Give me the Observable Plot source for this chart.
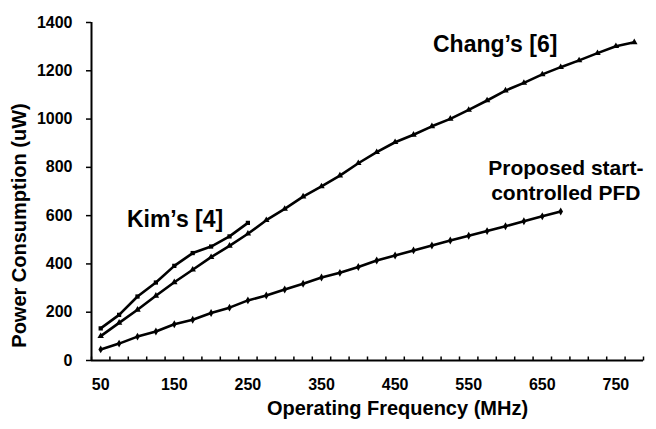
<!DOCTYPE html>
<html><head><meta charset="utf-8">
<script src="https://cdn.jsdelivr.net/npm/d3@7"></script>
<script src="https://cdn.jsdelivr.net/npm/@observablehq/plot@0.6"></script>
<style>
body{margin:0;background:#fff}
#chart{width:656px;height:429px}
</style>
</head><body><div id="chart"></div>
<script>
// ---- data ----
const freqs = [50,75,100,125,150,175,200,225,250,275,300,325,350,375,400,425,450,475,500,525,550,575,600,625,650,675,700,725,750,775];
const kim = [133,189,265,323,392,445,472,514,570];
const chang = [101,156,210,268,324,376,428,475,525,581,628,679,721,766,817,863,904,935,970,1001,1038,1077,1118,1150,1185,1215,1243,1273,1302,1318];
const proposed = [46,70,99,120,150,169,197,219,249,269,294,318,344,363,387,414,435,456,476,497,517,536,556,577,597,617];
const xTickLabels = [50,150,250,350,450,550,650,750];
const yTicks = [0,200,400,600,800,1000,1200,1400];
const xTitle = "Operating Frequency (MHz)";
const yTitle = "Power Consumption (uW)";
const bigLabels = [
  {text:"Kim\u2019s [4]", f:151, v:553},
  {text:"Chang\u2019s [6]", f:586, v:1278}
];
const propLabel = [{text:"Proposed start-\ncontrolled PFD", f:682, v:665}];

const toRows = (vals) => vals.map((v,i)=>({f:freqs[i], v}));
const kimRows = toRows(kim), changRows = toRows(chang), propRows = toRows(proposed);
const step = freqs[1]-freqs[0];
const xDomain = [freqs[0]-step/2, freqs[freqs.length-1]+step/2];
const edges = d3.range(freqs.length+1).map(i => xDomain[0] + i*step);

const upTick = {draw(ctx){ ctx.moveTo(0,0); ctx.lineTo(0,-4); }};
const font = "'Liberation Sans', Arial, Helvetica, sans-serif";

const chart = Plot.plot({
  width:656, height:429,
  marginLeft:91, marginRight:13, marginTop:22, marginBottom:69,
  style:{fontFamily:font, fontWeight:"bold", background:"#fff", color:"#000", overflow:"visible"},
  x:{domain:xDomain},
  y:{domain:[0,1400]},
  marks:[
    Plot.axisY({ticks:yTicks, tickSize:5, tickPadding:14, tickFormat:d=>String(d), fontSize:16, fontWeight:"bold", stroke:"#000", strokeWidth:1.5, label:null}),
    Plot.axisX({ticks:xTickLabels, tickSize:0, tickPadding:18, tickFormat:d=>String(d), fontSize:16, fontWeight:"bold", label:null}),
    Plot.dot(edges, {x:d=>d, y:()=>0, symbol:upTick, stroke:"#000", strokeWidth:1.5, fill:"none"}),
    Plot.ruleX([xDomain[0]], {stroke:"#000", strokeWidth:2}),
    Plot.ruleY([0], {stroke:"#000", strokeWidth:2}),
    Plot.line(kimRows, {x:"f", y:"v", stroke:"#000", strokeWidth:2.6}),
    Plot.line(changRows, {x:"f", y:"v", stroke:"#000", strokeWidth:2.6}),
    Plot.line(propRows, {x:"f", y:"v", stroke:"#000", strokeWidth:2.6}),
    Plot.dot(kimRows, {x:"f", y:"v", symbol:"square", r:2.4, fill:"#000"}),
    Plot.dot(changRows, {x:"f", y:"v", symbol:"triangle", r:2.4, fill:"#000"}),
    Plot.dot(propRows, {x:"f", y:"v", symbol:"diamond", r:2.4, fill:"#000"}),
    Plot.text(bigLabels, {x:"f", y:"v", text:"text", textAnchor:"middle", lineAnchor:"bottom", fontSize:23, fontWeight:"bold", fill:"#000"}),
    Plot.text(propLabel, {x:"f", y:"v", text:"text", textAnchor:"middle", lineAnchor:"bottom", lineHeight:1.2, fontSize:21, fontWeight:"bold", fill:"#000"}),
    Plot.text([xTitle], {frameAnchor:"bottom", dy:54, dx:30, fontSize:20, fontWeight:"bold", fill:"#000"}),
    Plot.text([yTitle], {frameAnchor:"left", textAnchor:"middle", rotate:-90, dx:-72, dy:34, fontSize:20, fontWeight:"bold", fill:"#000"})
  ]
});
document.getElementById("chart").appendChild(chart);
</script>
</body></html>
